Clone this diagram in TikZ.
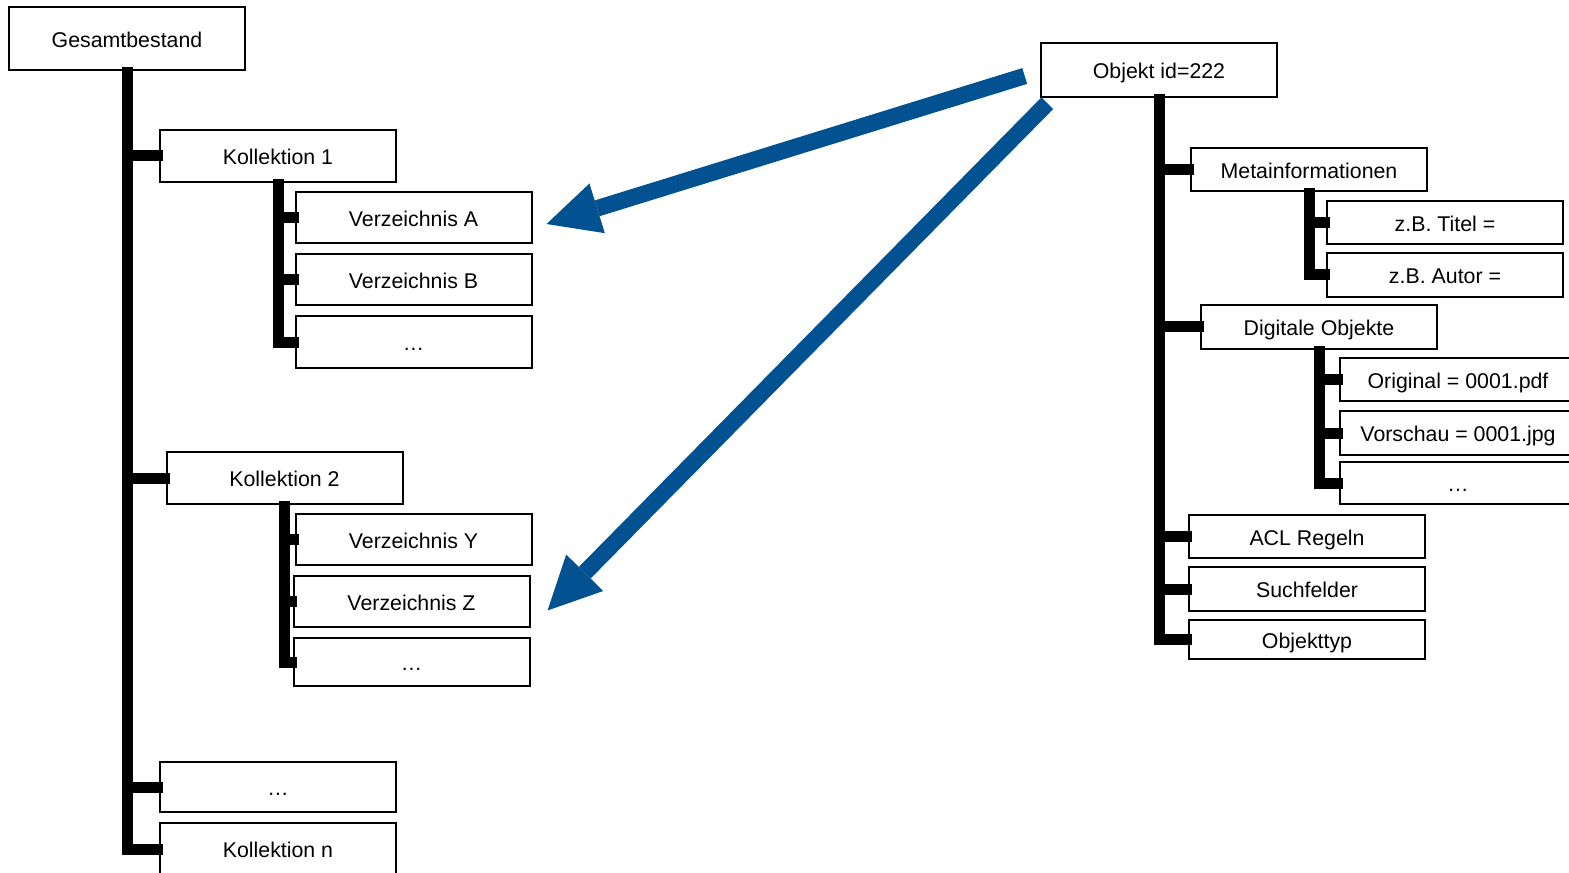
\documentclass[tikz,border=0pt]{standalone}
\usepackage{fontspec}
\setmainfont{Liberation Sans}
\usetikzlibrary{calc,arrows.meta}
\definecolor{arrowblue}{RGB}{2,82,146}
\newdimen\pxu
\pxu=0.75pt
\tikzset{
  box/.style={draw=black, line width=1.5pt, fill=white, inner sep=0pt,
    minimum width=236\pxu, minimum height=#1,
    text height=12.8pt, text depth=0pt,
    font=\fontsize{16pt}{19pt}\selectfont},
  box/.default=39pt,
  trunk/.style={draw=black, line width=8.25pt, line join=miter, line cap=butt},
  bluearrow/.style={draw=arrowblue, line width=12.4pt, line cap=butt,
    -{Triangle[length=39.75pt, width=39pt, line width=0pt]}}
}
\begin{document}
\begin{tikzpicture}[x=0.75pt, y=-0.75pt]
\useasboundingbox (0,0) rectangle (1569,873);
\clip (0,0) rectangle (1569,873);
% left tree
\node[box=63\pxu] (g)   at (127,38.5)  {Gesamtbestand};
\node[box=52\pxu] (k1)  at (278,156)   {Kollektion 1};
\node[box=51\pxu] (va)  at (413.5,217.5) {Verzeichnis A};
\node[box=51\pxu] (vb)  at (413.5,279.5) {Verzeichnis B};
\node[box=52\pxu] (vd1) at (413.5,342) {…};
\node[box=52\pxu] (k2)  at (284.5,478) {Kollektion 2};
\node[box=51\pxu] (vy)  at (413.5,539.5) {Verzeichnis Y};
\node[box=51\pxu] (vz)  at (411.5,601.5) {Verzeichnis Z};
\node[box=48\pxu] (vd2) at (411.5,662) {…};
\node[box=50\pxu] (kd)  at (278,787)   {…};
\node[box=52\pxu] (kn)  at (278,849)   {Kollektion n};
% right tree
\node[box=54\pxu] (o)    at (1159,70)    {Objekt id=222};
\node[box=43\pxu] (m)    at (1309,169.5) {Metainformationen};
\node[box=43\pxu] (zt)   at (1445,222.5) {z.B. Titel =};
\node[box=44\pxu] (za)   at (1445,275)   {z.B. Autor =};
\node[box=44\pxu] (d)    at (1319,327)   {Digitale Objekte};
\node[box=43\pxu] (orig) at (1458,379.5) {Original = 0001.pdf};
\node[box=44\pxu] (vor)  at (1458,433)   {Vorschau = 0001.jpg};
\node[box=42\pxu] (od)   at (1458,483)   {…};
\node[box=43\pxu] (acl)  at (1307,536.5) {ACL Regeln};
\node[box=44\pxu] (such) at (1307,589)   {Suchfelder};
\node[box=39\pxu] (typ)  at (1307,639.5) {Objekttyp};
% connectors left
\foreach \c in {k1,k2,kd,kn}
  \draw[trunk] ($(g.south)+(0,-4)$) |- ($(\c.west)+(4,0)$);
\foreach \c in {va,vb,vd1}
  \draw[trunk] ($(k1.south)+(0,-4)$) |- ($(\c.west)+(4,0)$);
\foreach \c in {vy,vz,vd2}
  \draw[trunk] ($(k2.south)+(0,-4)$) |- ($(\c.west)+(4,0)$);
% connectors right
\foreach \c in {m,d,acl,such,typ}
  \draw[trunk] ($(o.south)+(0,-4)$) |- ($(\c.west)+(4,0)$);
\foreach \c in {zt,za}
  \draw[trunk] ($(m.south)+(0,-4)$) |- ($(\c.west)+(4,0)$);
\foreach \c in {orig,vor,od}
  \draw[trunk] ($(d.south)+(0,-4)$) |- ($(\c.west)+(4,0)$);
% blue arrows
\draw[bluearrow] ($(o.west)+(-15.3,6)$) -- ($(va.east)+(14,6.5)$);
\draw[bluearrow] ($(o.south west)+(7.3,5.2)$) -- ($(vz.east)+(17,9)$);
\end{tikzpicture}
\end{document}
